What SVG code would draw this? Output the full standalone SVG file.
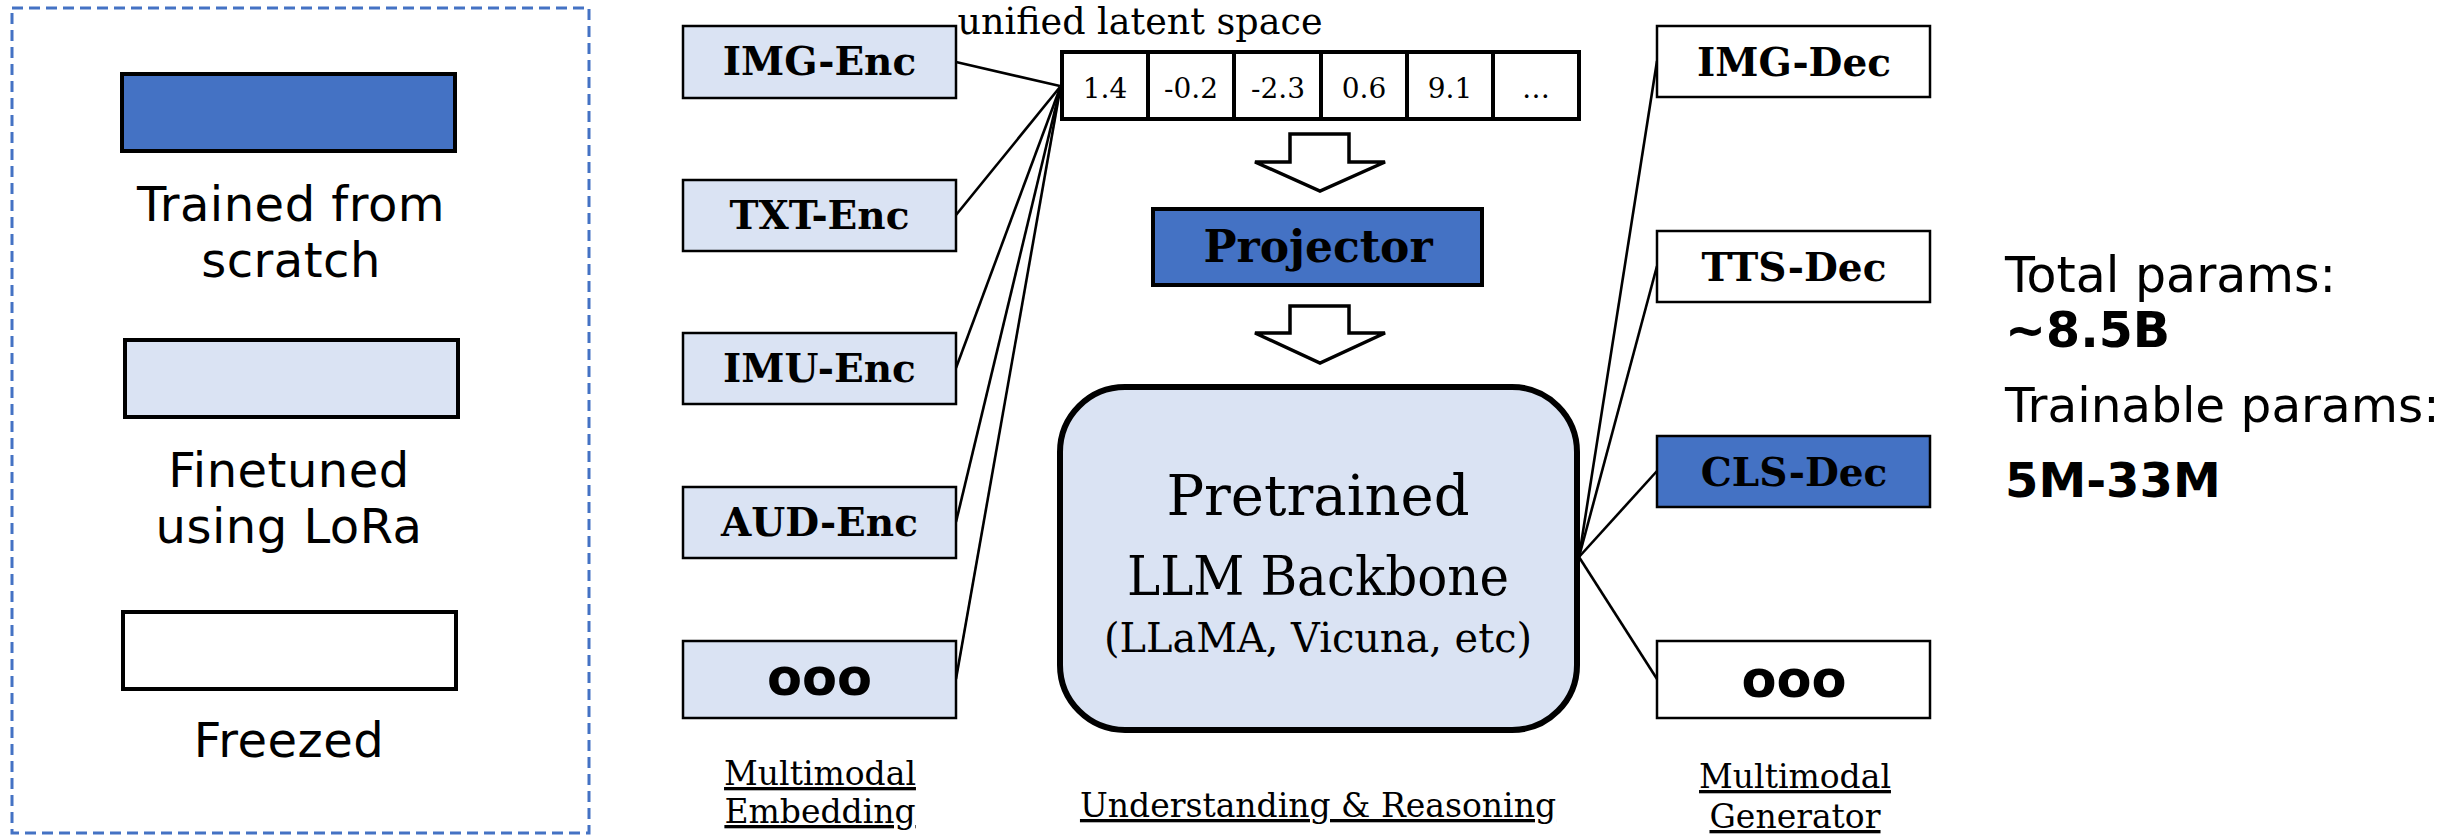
<svg xmlns="http://www.w3.org/2000/svg" width="2455" height="835" viewBox="0 0 2455 835">
  <style>
    .legend-box { fill: none; stroke: #4472C4; stroke-width: 3; stroke-dasharray: 11 6; }
    .sw { stroke: #000; stroke-width: 4; }
    .blk { stroke: #000; stroke-width: 2.5; }
    .trained { fill: #4472C4; }
    .lora { fill: #DAE3F3; }
    .frozen { fill: #FFFFFF; }
    .sans { font-family: "DejaVu Sans", Verdana, sans-serif; fill: #000; }
    .serif { font-family: "DejaVu Serif", Georgia, serif; fill: #000; }
    .legend-label { font-size: 48px; text-anchor: middle; letter-spacing: 0.5px; }
    .mod { font-size: 39px; font-weight: bold; text-anchor: middle; }
    .dots { font-family: "DejaVu Sans", Verdana, sans-serif; font-size: 51px; font-weight: bold; text-anchor: middle; }
    .cell { font-size: 28px; text-anchor: middle; }
    .caption { font-size: 33px; text-anchor: middle; text-decoration: underline; }
    .conn { stroke: #000; stroke-width: 2.6; fill: none; }
    .hollow { fill: #fff; stroke: #000; stroke-width: 3.5; stroke-linejoin: miter; }
  </style>

  <!-- legend -->
  <g id="legend">
    <rect class="legend-box" x="12" y="8" width="577" height="825"/>
    <rect class="trained sw" x="122" y="74" width="333" height="77"/>
    <text class="sans legend-label" x="291" y="221">Trained from</text>
    <text class="sans legend-label" x="291" y="277">scratch</text>
    <rect class="lora sw" x="125" y="340" width="333" height="77"/>
    <text class="sans legend-label" x="289" y="487">Finetuned</text>
    <text class="sans legend-label" x="289" y="543">using LoRa</text>
    <rect class="frozen sw" x="123" y="612" width="333" height="77"/>
    <text class="sans legend-label" x="289" y="757">Freezed</text>
  </g>

  <!-- connectors -->
  <g id="connectors">
    <line class="conn" x1="956" y1="62" x2="1060" y2="86"/>
    <line class="conn" x1="956" y1="215" x2="1060" y2="87"/>
    <line class="conn" x1="956" y1="368" x2="1060" y2="88"/>
    <line class="conn" x1="956" y1="522" x2="1060" y2="89"/>
    <line class="conn" x1="956" y1="679" x2="1060" y2="90"/>
    <line class="conn" x1="1579" y1="557" x2="1657" y2="61"/>
    <line class="conn" x1="1579" y1="557" x2="1657" y2="266"/>
    <line class="conn" x1="1579" y1="557" x2="1657" y2="471"/>
    <line class="conn" x1="1579" y1="557" x2="1657" y2="679"/>
    <path class="hollow" d="M1290,134 H1349 V162 H1385 L1320,191 L1255,162 H1290 Z"/>
    <path class="hollow" d="M1290,306 H1349 V333 H1385 L1320,363 L1255,333 H1290 Z"/>
  </g>

  <!-- encoders -->
  <g id="img-enc">
    <rect class="lora blk" x="683" y="26" width="273" height="72"/>
    <text class="serif mod" x="819.5" y="75">IMG-Enc</text>
  </g>
  <g id="txt-enc">
    <rect class="lora blk" x="683" y="180" width="273" height="71"/>
    <text class="serif mod" x="819.5" y="229">TXT-Enc</text>
  </g>
  <g id="imu-enc">
    <rect class="lora blk" x="683" y="333" width="273" height="71"/>
    <text class="serif mod" x="819.5" y="382">IMU-Enc</text>
  </g>
  <g id="aud-enc">
    <rect class="lora blk" x="683" y="487" width="273" height="71"/>
    <text class="serif mod" x="819.5" y="536">AUD-Enc</text>
  </g>
  <g id="more-enc">
    <rect class="lora blk" x="683" y="641" width="273" height="77"/>
    <text class="dots" x="819.5" y="695">ooo</text>
  </g>

  <!-- unified latent vector -->
  <g id="latent">
    <text class="serif" x="1140" y="34" font-size="36.5" text-anchor="middle">unified latent space</text>
    <rect x="1062" y="52" width="517" height="67" fill="#fff" class="sw"/>
    <g class="sw">
      <line x1="1148" y1="52" x2="1148" y2="119"/>
      <line x1="1234" y1="52" x2="1234" y2="119"/>
      <line x1="1321" y1="52" x2="1321" y2="119"/>
      <line x1="1407" y1="52" x2="1407" y2="119"/>
      <line x1="1493" y1="52" x2="1493" y2="119"/>
    </g>
    <text class="serif cell" x="1105" y="98">1.4</text>
    <text class="serif cell" x="1191" y="98">-0.2</text>
    <text class="serif cell" x="1278" y="98">-2.3</text>
    <text class="serif cell" x="1364" y="98">0.6</text>
    <text class="serif cell" x="1450" y="98">9.1</text>
    <text class="serif cell" x="1536" y="98">…</text>
  </g>

  <!-- projector -->
  <g id="projector">
    <rect class="trained sw" x="1153" y="209" width="329" height="76"/>
    <text class="serif" x="1318" y="262" font-size="44" font-weight="bold" text-anchor="middle">Projector</text>
  </g>

  <!-- backbone -->
  <g id="llm">
    <rect class="lora" x="1060" y="387" width="517" height="343" rx="65" ry="65" stroke="#000" stroke-width="6"/>
    <text class="serif" x="1318" y="515" font-size="56" text-anchor="middle">Pretrained</text>
    <text class="serif" x="1318" y="595" font-size="54" text-anchor="middle" textLength="382" lengthAdjust="spacingAndGlyphs">LLM Backbone</text>
    <text class="serif" x="1318" y="652" font-size="41" text-anchor="middle" textLength="428" lengthAdjust="spacingAndGlyphs">(LLaMA, Vicuna, etc)</text>
  </g>

  <!-- decoders -->
  <g id="img-dec">
    <rect class="frozen blk" x="1657" y="26" width="273" height="71"/>
    <text class="serif mod" x="1794" y="76">IMG-Dec</text>
  </g>
  <g id="tts-dec">
    <rect class="frozen blk" x="1657" y="231" width="273" height="71"/>
    <text class="serif mod" x="1794" y="281">TTS-Dec</text>
  </g>
  <g id="cls-dec">
    <rect class="trained blk" x="1657" y="436" width="273" height="71"/>
    <text class="serif mod" x="1794" y="486">CLS-Dec</text>
  </g>
  <g id="more-dec">
    <rect class="frozen blk" x="1657" y="641" width="273" height="77"/>
    <text class="dots" x="1794" y="697">ooo</text>
  </g>

  <!-- section captions -->
  <g id="captions">
    <text class="serif caption" x="820" y="785">Multimodal</text>
    <text class="serif caption" x="820" y="823">Embedding</text>
    <text class="serif caption" x="1318" y="817">Understanding &amp; Reasoning</text>
    <text class="serif caption" x="1795" y="788">Multimodal</text>
    <text class="serif caption" x="1795" y="828">Generator</text>
  </g>

  <!-- parameter counts -->
  <g id="params">
    <text class="sans" x="2005" y="292" font-size="49">Total params:</text>
    <text class="sans" x="2005" y="347" font-size="49" font-weight="bold">~8.5B</text>
    <text class="sans" x="2005" y="422" font-size="48.5">Trainable params:</text>
    <text class="sans" x="2005" y="497" font-size="48" font-weight="bold">5M-33M</text>
  </g>
</svg>
